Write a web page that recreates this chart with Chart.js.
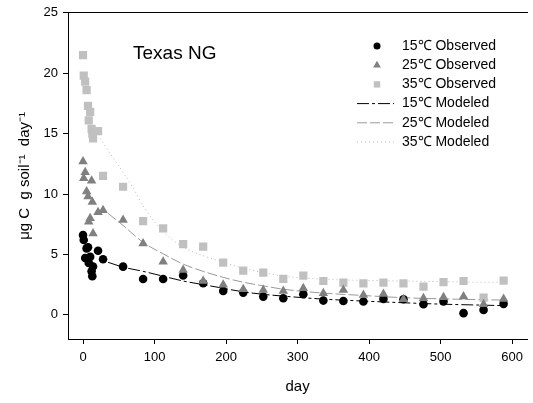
<!DOCTYPE html>
<html>
<head>
<meta charset="utf-8">
<script src="https://cdn.jsdelivr.net/npm/chart.js@4/dist/chart.umd.min.js"></script>
<style>
  html, body { margin: 0; padding: 0; background: #fff; overflow: hidden; }
  #wrap { width: 533px; height: 403px; }
</style>
</head>
<body>
<div id="wrap"><canvas id="respChart"></canvas></div>
<script>
// sampling days (observed)
const days = [0, 1, 3, 5, 7, 8, 10, 12, 13, 14, 21, 28,
  56, 84, 112, 140, 168, 196, 224, 252, 280, 308, 336, 364, 392, 420, 448, 476, 504, 532, 560, 588];

const obs15 = [6.6, 6.2, 4.7, 5.5, 5.6, 4.3, 4.8, 3.6, 3.2, 4.0, 5.3, 4.6,
  3.99, 2.97, 2.97, 3.25, 2.61, 1.98, 1.84, 1.51, 1.37, 1.71, 1.18, 1.15, 1.10, 1.32, 1.29, 0.88, 1.10, 0.14, 0.41, 0.91];
const obs25 = [12.7, 11.3, 11.8, 10.2, 9.8, 7.7, 8.0, 11.1, 9.35, 6.74, 8.5, 8.66,
  7.84, 5.91, 4.40, 3.71, 2.80, 2.48, 2.12, 2.06, 1.98, 2.20, 1.79, 2.06, 1.65, 1.73, 1.30, 1.37, 1.46, 1.51, 0.88, 1.32];
const obs35 = [21.5, 19.8, 19.3, 18.6, 17.3, 16.1, 16.8, 15.4, 15.0, 14.6, 15.2, 11.5,
  10.6, 7.76, 7.15, 5.86, 5.64, 4.32, 3.66, 3.49, 2.97, 3.25, 2.80, 2.67, 2.61, 2.67, 2.61, 2.34, 2.70, 2.80, 1.43, 2.83];

// modeled curves
const model15Days = [35, 56, 84, 112, 140, 168, 196, 224, 252, 280, 336, 392, 448, 504, 560, 588];
const model15 = [4.35, 3.95, 3.6, 3.2, 2.8, 2.5, 2.2, 1.9, 1.7, 1.55, 1.3, 1.14, 1.0, 0.88, 0.8, 0.76];
const model25Days = [35, 56, 84, 112, 140, 168, 196, 224, 252, 280, 336, 392, 448, 504, 560, 588];
const model25 = [8.4, 7.4, 6.0, 5.05, 4.2, 3.6, 3.1, 2.7, 2.4, 2.12, 1.8, 1.6, 1.42, 1.32, 1.25, 1.22];
const model35Days = [24, 42, 56, 70, 84, 112, 140, 168, 196, 224, 252, 280, 336, 392, 448, 504, 560, 588];
const model35 = [14.6, 13.0, 11.8, 10.5, 9.0, 6.9, 5.6, 4.9, 4.35, 3.85, 3.5, 3.2, 2.95, 2.85, 2.8, 2.75, 2.7, 2.7];

const xTicks = [0, 100, 200, 300, 400, 500, 600];
const yTicks = [0, 5, 10, 15, 20, 25];

const FONT = '"Liberation Sans", Arial, sans-serif';

const toPoints = (xs, ys) => xs.map((x, i) => ({ x: x, y: ys[i] }));

// legend + panel label drawn in the plot corner
const cornerLegend = {
  id: 'cornerLegend',
  afterDraw(chart) {
    const ctx = chart.ctx;
    ctx.save();
    ctx.fillStyle = '#000';
    ctx.textBaseline = 'middle';
    ctx.font = '19px ' + FONT;
    ctx.fillText('Texas NG', 133, 54);

    ctx.font = '14px ' + FONT;
    chart.data.datasets.forEach((ds, i) => {
      const y = 46 + i * 19.2;
      if (ds.showLine) {
        ctx.save();
        ctx.strokeStyle = ds.borderColor;
        ctx.lineWidth = 1;
        ctx.setLineDash(ds.borderDash || []);
        ctx.beginPath();
        ctx.moveTo(357, y);
        ctx.lineTo(394, y);
        ctx.stroke();
        ctx.restore();
      } else {
        ctx.save();
        ctx.fillStyle = ds.backgroundColor;
        Chart.helpers.drawPoint(ctx, { pointStyle: ds.pointStyle, radius: ds.pointStyle === 'circle' ? 3.5 : 4.5, rotation: 0, borderWidth: 0 }, 377, y);
        ctx.restore();
      }
      ctx.fillStyle = '#000';
      ctx.fillText(ds.label, 402, y);
    });
    ctx.restore();
  }
};

new Chart(document.getElementById('respChart'), {
  type: 'scatter',
  data: {
    datasets: [
      { label: '15\u2103 Observed', data: toPoints(days, obs15), pointStyle: 'circle', pointRadius: 4.3,
        backgroundColor: '#000000', borderWidth: 0, order: 2 },
      { label: '25\u2103 Observed', data: toPoints(days, obs25), pointStyle: 'triangle', pointRadius: 5.5,
        backgroundColor: '#808080', borderWidth: 0, order: 1 },
      { label: '35\u2103 Observed', data: toPoints(days, obs35), pointStyle: 'rect', pointRadius: 5.8,
        backgroundColor: '#c0c0c0', borderWidth: 0, order: 3 },
      { label: '15\u2103 Modeled', data: toPoints(model15Days, model15), showLine: true, pointRadius: 0,
        borderColor: '#000000', borderWidth: 1, borderDash: [12, 3, 3, 3], cubicInterpolationMode: 'monotone', order: 4 },
      { label: '25\u2103 Modeled', data: toPoints(model25Days, model25), showLine: true, pointRadius: 0,
        borderColor: '#999999', borderWidth: 1, borderDash: [10, 3], cubicInterpolationMode: 'monotone', order: 5 },
      { label: '35\u2103 Modeled', data: toPoints(model35Days, model35), showLine: true, pointRadius: 0,
        borderColor: '#b8b8b8', borderWidth: 1, borderDash: [1, 3], cubicInterpolationMode: 'monotone', order: 6 }
    ]
  },
  options: {
    responsive: true,
    maintainAspectRatio: false,
    animation: false,
    layout: { padding: { top: 12, right: 0, left: 0, bottom: 0 } },
    plugins: { legend: { display: false }, tooltip: { enabled: false } },
    scales: {
      x: {
        type: 'linear', position: 'bottom', min: -21, max: 621,
        afterBuildTicks: (scale) => { scale.ticks = xTicks.map(v => ({ value: v })); },
        afterFit: (scale) => { scale.height = 64; },
        grid: { drawOnChartArea: false, drawTicks: true, tickLength: 5, color: '#000' },
        border: { display: true, color: '#000', width: 1 },
        ticks: { color: '#000', padding: 6, maxRotation: 0, font: { family: FONT, size: 13 } },
        title: { display: true, text: 'day', color: '#000', padding: { top: 0, bottom: 7 }, font: { family: FONT, size: 15 } }
      },
      xTop: {
        type: 'linear', position: 'top',
        afterFit: (scale) => { scale.height = 0; },
        grid: { drawOnChartArea: false, drawTicks: false },
        border: { display: true, color: '#000', width: 1 },
        ticks: { display: false }
      },
      y: {
        type: 'linear', position: 'left', min: -2, max: 25,
        afterBuildTicks: (scale) => { scale.ticks = yTicks.map(v => ({ value: v })); },
        afterFit: (scale) => { scale.width = 68; },
        grid: { drawOnChartArea: false, drawTicks: true, tickLength: 5, color: '#000' },
        border: { display: true, color: '#000', width: 1 },
        ticks: { color: '#000', padding: 5, font: { family: FONT, size: 13 } },
        title: { display: true, text: '\u03bcg C  g soil\u207b\u00b9  day\u207b\u00b9', color: '#000', padding: { top: 16, bottom: 0 }, font: { family: FONT, size: 15 } }
      }
    }
  },
  plugins: [cornerLegend]
});
</script>
</body>
</html>
